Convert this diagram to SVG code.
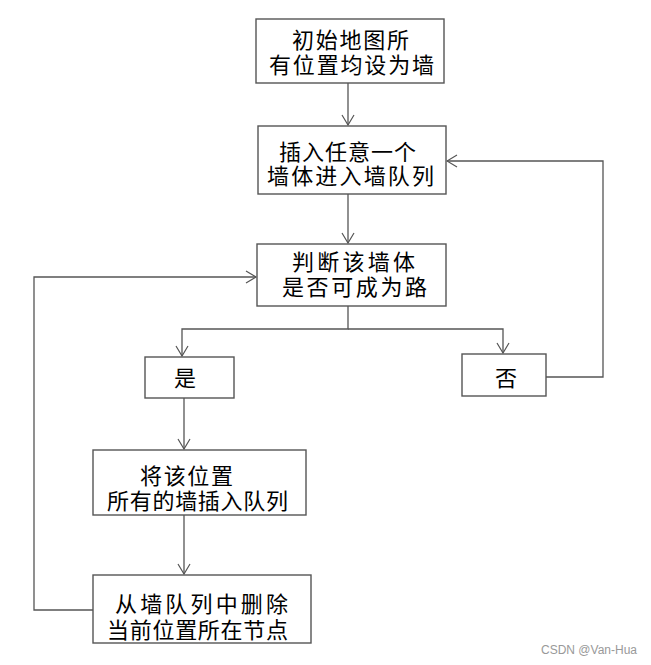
<svg xmlns="http://www.w3.org/2000/svg" width="651" height="665" viewBox="0 0 651 665">
<style>
.box{fill:#fff;stroke:#555;stroke-width:1.4}
.t{font-family:"Liberation Sans","Noto Sans CJK SC",sans-serif;font-size:22px;fill:#000}
.c{fill:none;stroke:#555;stroke-width:1.3}
.wm{font-family:"Liberation Sans",Arial,sans-serif;font-size:12px;fill:#999}
</style>
<defs>
<marker id="arr" markerUnits="userSpaceOnUse" markerWidth="12" markerHeight="14" viewBox="0 0 12 14" refX="11" refY="7" orient="auto">
<path d="M1,1 L11,7 L1,13" fill="none" stroke="#555" stroke-width="1.2"/>
</marker>
</defs>
<rect width="651" height="665" fill="#fff"/>
<g id="connectors">
<path class="c" d="M348,83 V125" marker-end="url(#arr)"/>
<path class="c" d="M348,194 V243" marker-end="url(#arr)"/>
<path class="c" d="M348,306 V329 H182 V356" marker-end="url(#arr)"/>
<path class="c" d="M348,329 H503 V353" marker-end="url(#arr)"/>
<path class="c" d="M546,377 H603 V161 H447" marker-end="url(#arr)"/>
<path class="c" d="M184,398 V449" marker-end="url(#arr)"/>
<path class="c" d="M184,515 V574" marker-end="url(#arr)"/>
<path class="c" d="M93,610 H34 V277 H256" marker-end="url(#arr)"/>
</g>
<g id="n1">
<rect class="box" x="256" y="19" width="188" height="64"/>
<text class="t"><tspan x="292" y="48" textLength="117" lengthAdjust="spacing">初始地图所</tspan><tspan x="269" y="73" textLength="165" lengthAdjust="spacing">有位置均设为墙</tspan></text>
</g>
<g id="n2">
<rect class="box" x="258" y="126" width="188" height="68"/>
<text class="t"><tspan x="279" y="160" textLength="137" lengthAdjust="spacing">插入任意一个</tspan><tspan x="267" y="184" textLength="167" lengthAdjust="spacing">墙体进入墙队列</tspan></text>
</g>
<g id="n3">
<rect class="box" x="257" y="244" width="189" height="62"/>
<text class="t"><tspan x="292" y="270" textLength="123" lengthAdjust="spacing">判断该墙体</tspan><tspan x="282" y="295" textLength="145" lengthAdjust="spacing">是否可成为路</tspan></text>
</g>
<g id="n4">
<rect class="box" x="145" y="357" width="89" height="41"/>
<text class="t" x="185" y="386" text-anchor="middle">是</text>
</g>
<g id="n5">
<rect class="box" x="462" y="354" width="84" height="42"/>
<text class="t" x="506" y="386" text-anchor="middle">否</text>
</g>
<g id="n6">
<rect class="box" x="93" y="450" width="213" height="65"/>
<text class="t"><tspan x="140" y="484" textLength="93" lengthAdjust="spacing">将该位置</tspan><tspan x="107" y="509" textLength="181" lengthAdjust="spacing">所有的墙插入队列</tspan></text>
</g>
<g id="n7">
<rect class="box" x="93" y="575" width="218" height="68"/>
<text class="t"><tspan x="115" y="612" textLength="173" lengthAdjust="spacing">从墙队列中删除</tspan><tspan x="107" y="638" textLength="181" lengthAdjust="spacing">当前位置所在节点</tspan></text>
</g>
<text class="wm" x="541" y="654" textLength="96" lengthAdjust="spacingAndGlyphs">CSDN @Van-Hua</text>
</svg>
